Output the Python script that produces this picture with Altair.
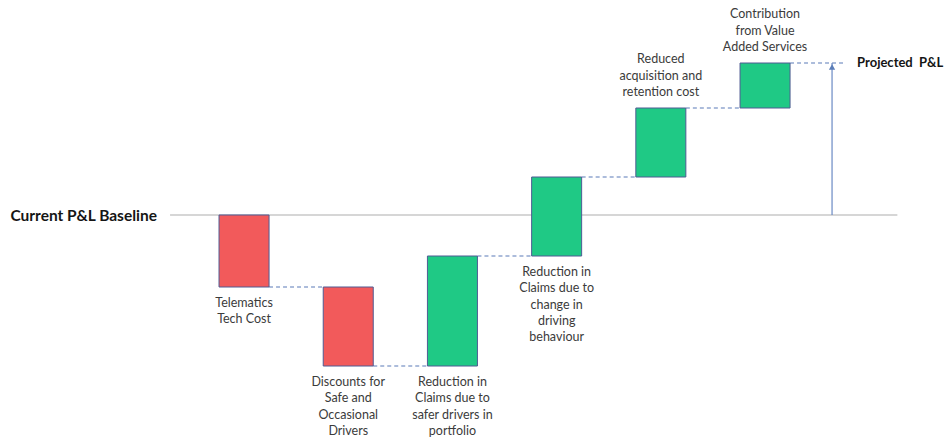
import altair as alt
import pandas as pd

# Waterfall steps from the current P&L baseline to the projected P&L
step_labels = [
    ["Telematics", "Tech Cost"],
    ["Discounts for", "Safe and", "Occasional", "Drivers"],
    ["Reduction in", "Claims due to", "safer drivers in", "portfolio"],
    ["Reduction in", "Claims due to", "change in", "driving", "behaviour"],
    ["Reduced", "acquisition and", "retention cost"],
    ["Contribution", "from Value", "Added Services"],
]
step_deltas = [-7.2, -7.9, 11.0, 7.9, 6.9, 4.5]
label_side = ["below", "below", "below", "below", "above", "above"]

baseline_label = "Current P&L Baseline"
projected_label = "Projected\u00a0 P&L"

# ---- layout constants (in scale units) ----
HALF = 0.24          # half bar width in slot units
X_DOMAIN = [-2.342, 6.727]
Y_DOMAIN = [-23.1, 21.5]
RED, GREEN = "#F25A5B", "#1FC985"
EDGE = "#4F5B93"
DASH = "#5A7AB8"
TEXT = "#3B3B3B"
FONT = "Lato"
LINE_H = 16.3

rows = []
running = 0.0
for i, (lab, d, side) in enumerate(zip(step_labels, step_deltas, label_side)):
    start, end = running, running + d
    running = end
    rows.append(dict(idx=i, label=lab, start=start, end=end,
                     lo=min(start, end), hi=max(start, end),
                     x0=i - HALF, x1=i + HALF, side=side))
bars = pd.DataFrame(rows)
total = running

# labels placed above a bar are stacked upward from the bar's top edge
above_lines = max(len(r["label"]) for r in rows if r["side"] == "above")

# dashed connectors between consecutive bars, plus one out to the projection arrow
arrow_x = len(step_deltas) - 1 + 0.643
conn = []
for i in range(len(rows)):
    nxt = rows[i + 1]["x0"] if i + 1 < len(rows) else arrow_x + 0.11
    conn.append(dict(cx=rows[i]["x1"], cx2=nxt, cy=rows[i]["end"]))
connectors = pd.DataFrame(conn)

xs = alt.Scale(domain=X_DOMAIN, nice=False, zero=False)
ys = alt.Scale(domain=Y_DOMAIN, nice=False, zero=False)

rects = alt.Chart(bars).mark_rect(stroke=EDGE, strokeWidth=1).encode(
    x=alt.X("x0:Q", scale=xs, axis=None),
    x2="x1:Q",
    y=alt.Y("lo:Q", scale=ys, axis=None),
    y2="hi:Q",
    fill=alt.condition(alt.datum.end < alt.datum.start, alt.value(RED), alt.value(GREEN)),
)

dashes = alt.Chart(connectors).mark_rule(color=DASH, strokeWidth=1.2, strokeDash=[4, 3]).encode(
    x=alt.X("cx:Q", scale=xs, axis=None), x2="cx2:Q", y=alt.Y("cy:Q", scale=ys, axis=None)
)

below = alt.Chart(bars).transform_filter(alt.datum.side == "below").mark_text(
    font=FONT, fontSize=12.5, color=TEXT, baseline="top", align="center",
    lineHeight=LINE_H, dy=10
).encode(x=alt.X("idx:Q", scale=xs, axis=None), y=alt.Y("lo:Q", scale=ys, axis=None), text="label")

above = alt.Chart(bars).transform_filter(alt.datum.side == "above").mark_text(
    font=FONT, fontSize=12.5, color=TEXT, baseline="bottom", align="center",
    lineHeight=LINE_H, dy=-9 - (above_lines - 1) * LINE_H
).encode(x=alt.X("idx:Q", scale=xs, axis=None), y=alt.Y("hi:Q", scale=ys, axis=None), text="label")

# baseline reference line and its label
base_df = pd.DataFrame([dict(bx=-0.71, bx2=6.27, by=0.0, blabel=baseline_label, blx=-0.835)])
base_line = alt.Chart(base_df).mark_rule(color="#C8C8C8", strokeWidth=1.5).encode(
    x=alt.X("bx:Q", scale=xs, axis=None), x2="bx2:Q", y=alt.Y("by:Q", scale=ys, axis=None)
)
base_text = alt.Chart(base_df).mark_text(
    font=FONT, fontSize=15.5, fontWeight="bold", color="#151515", align="right", baseline="middle", dy=1
).encode(x=alt.X("blx:Q", scale=xs, axis=None), y=alt.Y("by:Q", scale=ys, axis=None), text="blabel:N")

# projection arrow from baseline up to the projected total
arrow_df = pd.DataFrame([dict(ax=arrow_x, ay=0.0, ay2=total, alabel=projected_label, alx=arrow_x + 0.24)])
arrow_shaft = alt.Chart(arrow_df).mark_rule(color="#6A8AC4", strokeWidth=1.2).encode(
    x=alt.X("ax:Q", scale=xs, axis=None), y=alt.Y("ay:Q", scale=ys, axis=None), y2="ay2:Q"
)
arrow_head = alt.Chart(arrow_df).mark_point(
    shape="triangle-up", filled=True, color="#5B7DB8", size=40, opacity=1, yOffset=4
).encode(x=alt.X("ax:Q", scale=xs, axis=None), y=alt.Y("ay2:Q", scale=ys, axis=None))
proj_text = alt.Chart(arrow_df).mark_text(
    font=FONT, fontSize=13, fontWeight="bold", color="#151515", align="left", baseline="middle"
).encode(x=alt.X("alx:Q", scale=xs, axis=None), y=alt.Y("ay2:Q", scale=ys, axis=None), text="alabel:N")

chart = alt.layer(
    base_line, dashes, rects, below, above, base_text, arrow_shaft, arrow_head, proj_text
).properties(
    width=945, height=446, padding=0, autosize=alt.AutoSizeParams(type="none"), background="white"
).configure_view(stroke=None)

chart.save("out.html", embed_options={"renderer": "svg", "actions": False})
